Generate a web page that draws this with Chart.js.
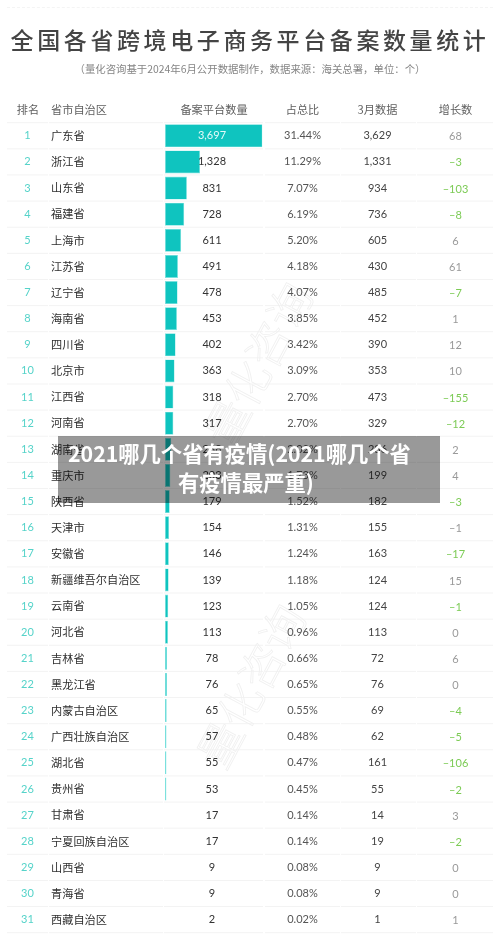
<!DOCTYPE html>
<html lang="zh">
<head>
<meta charset="utf-8">
<title>全国各省跨境电子商务平台备案数量统计</title>
<script src="https://cdn.jsdelivr.net/npm/chart.js@4"></script>
<style>
html,body{margin:0;padding:0;background:#fff;overflow:hidden;}
#wrap{position:relative;width:500px;height:940px;font-family:"Noto Sans CJK SC",sans-serif;}
#chart{position:absolute;left:0;top:0;}
#topline{position:absolute;left:7px;right:7px;top:7px;border-top:1px dashed #f4f4f4;}
#title{position:absolute;left:0;width:500px;top:21px;text-align:center;font-size:23px;font-weight:500;line-height:36px;letter-spacing:3.6px;color:#444;white-space:nowrap;}
#sub{position:absolute;left:0;width:500px;top:61px;text-align:center;font-size:10.4px;line-height:16px;color:#858585;white-space:nowrap;}
#banner{position:absolute;left:58px;top:436px;width:382px;height:67px;background:rgba(0,0,0,.4);color:#fff;font-weight:700;font-size:21.3px;line-height:29px;white-space:nowrap;}
#banner span{position:absolute;}
#line1{left:10px;top:2px;}
#line2{left:120px;top:31px;}
</style>
</head>
<body>
<div id="wrap">
  <canvas id="chart" width="500" height="940"></canvas>
  <div id="topline"></div>
  <div id="title">全国各省跨境电子商务平台备案数量统计</div>
  <div id="sub">（量化咨询基于2024年6月公开数据制作，数据来源：海关总署，单位：个）</div>
  <div id="banner"><span id="line1">2021哪几个省有疫情(2021哪几个省</span><span id="line2">有疫情最严重)</span></div>
</div>
<script>
// ------------------ DATA ------------------
const provinces = ["广东省","浙江省","山东省","福建省","上海市","江苏省","辽宁省","海南省","四川省","北京市","江西省","河南省","湖南省","重庆市","陕西省","天津市","安徽省","新疆维吾尔自治区","云南省","河北省","吉林省","黑龙江省","内蒙古自治区","广西壮族自治区","湖北省","贵州省","甘肃省","宁夏回族自治区","山西省","青海省","西藏自治区"];
const filings = [3697,1328,831,728,611,491,478,453,402,363,318,317,238,203,179,154,146,139,123,113,78,76,65,57,55,53,17,17,9,9,2];
const shares = ["31.44%","11.29%","7.07%","6.19%","5.20%","4.18%","4.07%","3.85%","3.42%","3.09%","2.70%","2.70%","2.02%","1.73%","1.52%","1.31%","1.24%","1.18%","1.05%","0.96%","0.66%","0.65%","0.55%","0.48%","0.47%","0.45%","0.14%","0.14%","0.08%","0.08%","0.02%"];
const march = [3629,1331,934,736,605,430,485,452,390,353,473,329,236,199,182,155,163,124,124,113,72,76,69,62,161,55,14,19,9,9,1];
const growth = [68,-3,-103,-8,6,61,-7,1,12,10,-155,-12,2,4,-3,-1,-17,15,-1,0,6,0,-4,-5,-106,-2,3,-2,0,0,1];
const headers = ["排名","省市自治区","备案平台数量","占总比","3月数据","增长数"];

// ------------------ LAYOUT ------------------
const COL = {rank:27.5, name:51, value:212, share:302.5, march:377.5, growth:455.5};
const LINE_SEGMENTS = [[7,48],[49,163],[164,263],[265,340],[341,416],[417,493]];
const TEXT_FONT = '11px Lato, "Noto Sans CJK SC", sans-serif';
const HIDDEN_BELOW = 20; // the smallest bars do not show in the original

function commas(n){
    return n.toLocaleString("en-US");
}

function growthColor(v, index){
    // 天津市 -1 is grey in the original, the others below zero are green
    if(v<0 && index!==15) return "#7ccb55";
    return "#9a9a9a";
}

// ------------------ WATERMARK ------------------
function drawWatermark(ctx, x, y){
    ctx.save();
    ctx.translate(x,y);
    ctx.rotate(-62*Math.PI/180);
    ctx.font = '300 44px "Noto Sans CJK SC", sans-serif';
    ctx.textAlign = "center";
    ctx.textBaseline = "middle";
    ctx.strokeStyle = "#f0f0f0";
    ctx.lineWidth = 0.8;
    ctx.strokeText("量化咨询",0,0);
    ctx.restore();
}

// ------------------ TABLE PLUGIN ------------------
const tablePlugin = {
    id:"table",
    beforeDatasetsDraw(chart){
        const ctx = chart.ctx;
        const yScale = chart.scales.y;
        const pitch = yScale.getPixelForValue(1)-yScale.getPixelForValue(0);
        ctx.save();
        ctx.strokeStyle = "#f3f3f3";
        ctx.lineWidth = 1;
        provinces.forEach((p,i)=>{
            const y = yScale.getPixelForValue(i)-pitch/2;
            LINE_SEGMENTS.forEach(s=>{
                ctx.beginPath();
                ctx.moveTo(s[0],y);
                ctx.lineTo(s[1],y);
                ctx.stroke();
            });
        });
        const last = yScale.getPixelForValue(provinces.length-1)+pitch/2;
        LINE_SEGMENTS.forEach(s=>{
            ctx.beginPath();
            ctx.moveTo(s[0],last);
            ctx.lineTo(s[1],last);
            ctx.stroke();
        });
        ctx.restore();
        drawWatermark(ctx,258,364);
        drawWatermark(ctx,251,686);
    },
    afterDatasetsDraw(chart){
        const ctx = chart.ctx;
        const yScale = chart.scales.y;
        ctx.save();
        ctx.textBaseline = "middle";
        ctx.font = '11.2px "Noto Sans CJK SC", sans-serif';
        ctx.fillStyle = "#5f5f5f";

        // header row
        const headY = 110;
        ctx.textAlign = "center";
        ctx.fillText(headers[0],COL.rank+0.5,headY);
        ctx.fillText(headers[2],COL.value+2,headY);
        ctx.fillText(headers[3],COL.share,headY);
        ctx.fillText(headers[4],COL.march,headY);
        ctx.fillText(headers[5],COL.growth,headY);
        ctx.textAlign = "left";
        ctx.fillText(headers[1],COL.name,headY);

        // table rows
        ctx.textAlign = "center";
        ctx.font = TEXT_FONT;
        provinces.forEach((p,i)=>{
            const y = yScale.getPixelForValue(i);
            ctx.fillStyle = "#55d3c9";
            ctx.fillText(String(i+1),COL.rank,y);
            ctx.fillStyle = i===0 ? "#e4faf9" : "#333";
            ctx.fillText(commas(filings[i]),COL.value,y);
            ctx.fillStyle = "#555";
            ctx.fillText(shares[i],COL.share,y);
            ctx.fillStyle = "#444";
            ctx.fillText(commas(march[i]),COL.march,y);
            ctx.fillStyle = growthColor(growth[i],i);
            ctx.fillText(String(growth[i]).replace("-","–"),COL.growth,y+1);
        });
        ctx.restore();
    }
};

// ------------------ CHART ------------------
new Chart(document.getElementById("chart").getContext("2d"),{
    type:"bar",
    data:{
        labels:provinces,
        datasets:[{
            data:filings,
            backgroundColor:c=>c.raw<HIDDEN_BELOW ? "transparent" : "#0fc4bf",
            borderColor:c=>c.raw<HIDDEN_BELOW ? "transparent" : "#7fe3df",
            borderWidth:0.6,
            borderSkipped:false,
            barPercentage:0.88,
            categoryPercentage:1
        }]
    },
    options:{
        indexAxis:"y",
        responsive:false,
        animation:false,
        layout:{padding:{left:51,right:237.5,top:122.7,bottom:7.3}},
        plugins:{legend:{display:false},title:{display:false},tooltip:{enabled:false}},
        scales:{
            x:{display:false,min:0,max:3697},
            y:{
                afterFit(scale){ scale.width = 114; },
                grid:{display:false},
                border:{display:false},
                ticks:{
                    crossAlign:"far",
                    padding:0,
                    autoSkip:false,
                    color:"#2e2e2e",
                    font:{family:'"Noto Sans CJK SC", sans-serif',size:11.2}
                }
            }
        }
    },
    plugins:[tablePlugin]
});
</script>
</body>
</html>
